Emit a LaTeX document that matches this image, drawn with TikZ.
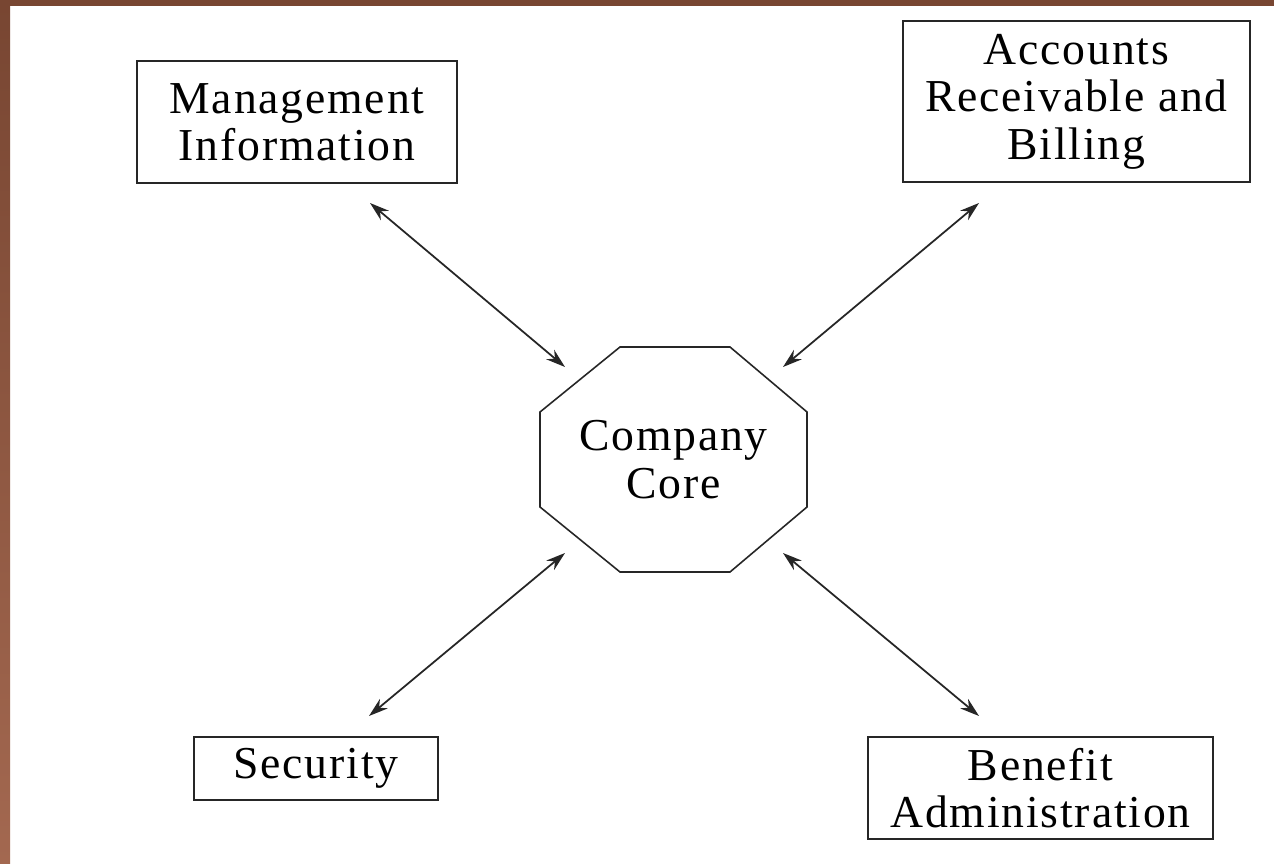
\documentclass[tikz,border=0pt]{standalone}
\usepackage{fontspec}
\setmainfont{Liberation Serif}[LetterSpace=4]
\usetikzlibrary{arrows.meta}
\definecolor{framedark}{RGB}{120,70,50}
\definecolor{framelight}{RGB}{163,104,80}
\tikzset{
  txt/.style={align=center, font=\fontsize{26}{27}\selectfont},
  box/.style={txt, draw=black!85, line width=1.1pt, inner sep=0pt},
  link/.style={line width=1pt, black!85,
    {Stealth[length=11pt,width=7pt]}-{Stealth[length=11pt,width=7pt]}},
}
\begin{document}
\begin{tikzpicture}[x=0.02cm,y=-0.02cm]
\useasboundingbox (0,0) rectangle (1274,864);
\fill[white] (0,0) rectangle (1274,864);
% frame
\shade[top color=framedark, bottom color=framelight] (0,0) rectangle (10,864);
\fill[framedark] (0,0) rectangle (1274,6);
% boxes
\node[box, minimum width=320*0.02cm, minimum height=122*0.02cm] (mi) at (297,122) {Management\\Information};
\node[box, minimum width=347*0.02cm, minimum height=161*0.02cm] (ar) at (1076.5,101.5) {Accounts\\Receivable and\\Billing};
\node[box, minimum width=244*0.02cm, minimum height=63*0.02cm] (sec) at (316,768.5) {Security};
\node[box, minimum width=345*0.02cm, minimum height=102*0.02cm] (ben) at (1040.5,788) {Benefit\\Administration};
% core octagon
\node[txt] (core) at (673.5,459.5) {Company\\Core};
\draw[black!85, line width=0.9pt] (620,347) -- (730,347) -- (807,412) -- (807,507) -- (730,572) -- (620,572) -- (540,507) -- (540,412) -- cycle;
% arrow ends
\coordinate (miA) at (370,203);
\coordinate (miB) at (565,367);
\coordinate (arA) at (979,203);
\coordinate (arB) at (783,367);
\coordinate (secA) at (369,716);
\coordinate (secB) at (565,553);
\coordinate (benA) at (979,716);
\coordinate (benB) at (783,553);
\draw[link] (miA) -- (miB);
\draw[link] (arA) -- (arB);
\draw[link] (secA) -- (secB);
\draw[link] (benA) -- (benB);
\end{tikzpicture}
\end{document}
